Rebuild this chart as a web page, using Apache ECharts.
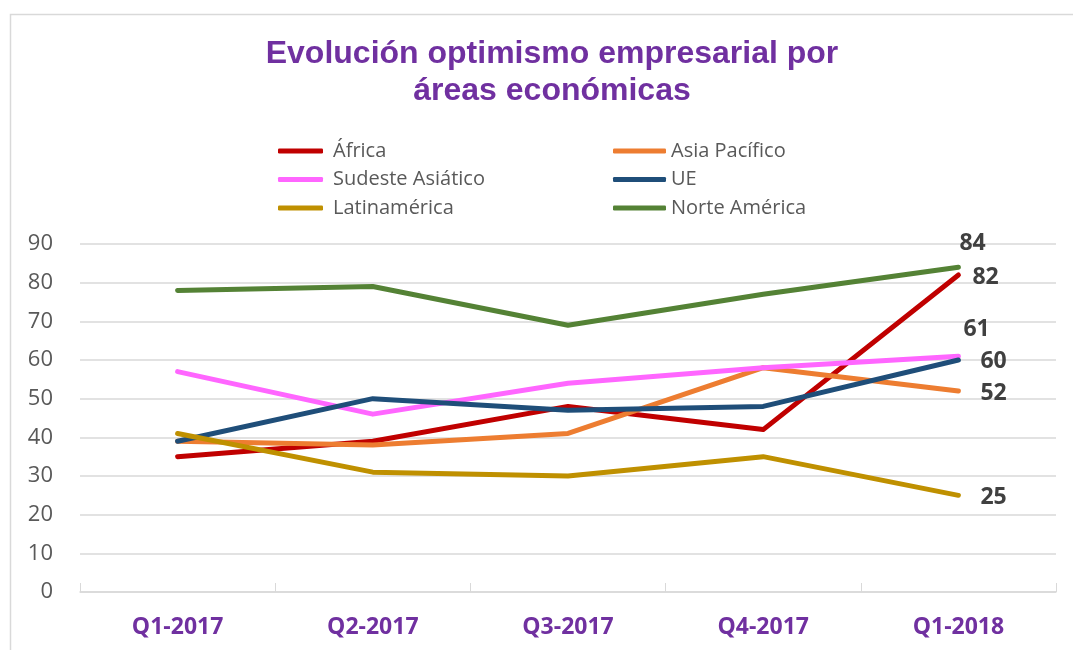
<!DOCTYPE html>
<html><head><meta charset="utf-8">
<script src="https://cdn.jsdelivr.net/npm/echarts@6/dist/echarts.min.js"></script>
<style>html,body{margin:0;padding:0;background:#fff}#c{width:1073px;height:650px}</style>
</head><body><div id="c"></div>
<script>
const categories = ['Q1-2017','Q2-2017','Q3-2017','Q4-2017','Q1-2018'];
const seriesNames = ['África','Asia Pacífico','Sudeste Asiático','UE','Latinamérica','Norte América'];
const africa = [35, 39, 48, 42, 82];
const asiaPacifico = [39, 38, 41, 58, 52];
const sudesteAsiatico = [57, 46, 54, 58, 61];
const ue = [39, 50, 47, 48, 60];
const latinamerica = [41, 31, 30, 35, 25];
const norteAmerica = [78, 79, 69, 77, 84];
const colors = ['#C00000','#ED7D31','#FF66FF','#1F4E79','#BF9000','#548235'];
const values = [africa, asiaPacifico, sudesteAsiatico, ue, latinamerica, norteAmerica];
// label offsets for the final-point labels
const labelOffsets = [[14,3],[22,3],[5,-27],[22,1],[22,2],[1,-24]];

const chart = echarts.init(document.getElementById('c'));
const series = values.map((vals, i) => ({
  name: seriesNames[i],
  type: 'line',
  data: vals,
  symbol: 'none',
  endLabel: {
    show: true, distance: 0,
    offset: labelOffsets[i],
    formatter: '{c}', color: '#404040', fontSize: 23, fontWeight: 'bold',
    fontFamily: 'Open Sans'
  },
  lineStyle: { width: 5, color: colors[i], cap: 'round', join: 'round' },
  itemStyle: { color: colors[i] },
  z: 2
}));
const legendText = { color: '#595959', fontSize: 20, fontFamily: 'Open Sans', padding: [0,0,0,5] };
chart.setOption({
  animation: false,
  color: colors,
  title: {
    text: 'Evolución optimismo empresarial por\náreas económicas',
    left: 547, top: 31, textAlign: 'center',
    textStyle: { color: '#7030A0', fontSize: 32, fontWeight: 'bold', fontFamily: 'Liberation Sans', lineHeight: 37 }
  },
  graphic: [{ type: 'rect', shape: { x: 10.5, y: 14.5, width: 1080, height: 700 }, style: { fill: 'none', stroke: '#d9d9d9', lineWidth: 1.5 }, silent: true }],
  legend: [
    { data: ['África','Sudeste Asiático','Latinamérica'], orient: 'vertical', left: 273, top: 136, itemWidth: 45, itemHeight: 5, itemGap: 8.5, icon: 'roundRect', textStyle: legendText },
    { data: ['Asia Pacífico','UE','Norte América'], orient: 'vertical', left: 608, top: 136, itemWidth: 53, itemHeight: 5, itemGap: 8.5, icon: 'roundRect', textStyle: Object.assign({}, legendText, {padding:[0,0,0,0]}) }
  ],
  grid: { left: 80, right: 17, top: 244, bottom: 58, containLabel: false },
  xAxis: {
    type: 'category', data: categories, boundaryGap: true,
    axisLine: { lineStyle: { color: '#d9d9d9', width: 1.5 } },
    axisTick: { show: true, inside: true, length: 9, lineStyle: { color: '#d9d9d9' } },
    axisLabel: { color: '#7030A0', fontSize: 23, fontWeight: 'bold', fontFamily: 'Open Sans', margin: 24 }
  },
  yAxis: {
    type: 'value', min: 0, max: 90, interval: 10,
    axisLine: { show: false }, axisTick: { show: false },
    splitLine: { lineStyle: { color: '#d9d9d9', width: 1.5 } },
    axisLabel: { color: '#595959', fontSize: 22, fontFamily: 'Open Sans', margin: 27 }
  },
  series
});
</script></body></html>
